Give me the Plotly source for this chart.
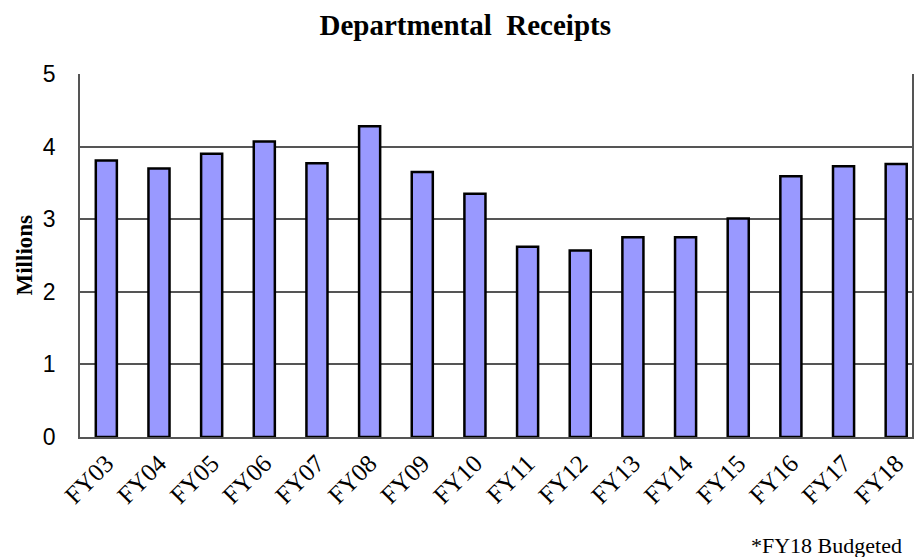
import plotly.graph_objects as go

years = ["FY03", "FY04", "FY05", "FY06", "FY07", "FY08", "FY09", "FY10",
         "FY11", "FY12", "FY13", "FY14", "FY15", "FY16", "FY17", "FY18"]
receipts_millions = [3.81, 3.70, 3.90, 4.07, 3.77, 4.28, 3.65, 3.35,
                     2.62, 2.57, 2.75, 2.75, 3.01, 3.59, 3.73, 3.76]
y_ticks = [0, 1, 2, 3, 4, 5]

serif = "Liberation Serif, Times New Roman, serif"
sans = "Liberation Sans, Arial, sans-serif"

fig = go.Figure()
fig.add_trace(go.Bar(
    x=years, y=receipts_millions, width=0.4,
    marker=dict(color="#9999FF", line=dict(color="black", width=2.5)),
    hoverinfo="x+y",
))

fig.update_layout(
    width=914, height=557,
    margin=dict(l=80, r=0, t=74, b=120),
    paper_bgcolor="white", plot_bgcolor="white",
    showlegend=False,
    title=dict(text="<b>Departmental&nbsp; Receipts</b>", x=0.509, xanchor="center",
               y=1 - 25 / 557, yanchor="middle", yref="container",
               font=dict(family=serif, size=29, color="black")),
    xaxis=dict(type="category", range=[-0.5, 15.3], tickangle=-45,
               tickfont=dict(family=serif, size=25, color="black"),
               showline=True, linecolor="#555", linewidth=1.5, ticks=""),
    yaxis=dict(range=[0, 5], tickvals=y_ticks, showgrid=True, gridcolor="#555",
               gridwidth=1.5, zeroline=False, showline=True, linecolor="#555",
               linewidth=1.5, mirror=True, ticklabelstandoff=18,
               tickfont=dict(family=sans, size=23, color="black")),
    annotations=[
        dict(text="<b>Millions</b>", textangle=-90, xref="paper", yref="paper",
             x=0, y=0.5, xanchor="center", yanchor="middle", xshift=-56,
             showarrow=False, font=dict(family=serif, size=23, color="black")),
        dict(text="*FY18 Budgeted", xref="paper", yref="paper", x=1, y=0,
             xanchor="right", yanchor="middle", xshift=-8, yshift=-108,
             showarrow=False, font=dict(family=serif, size=22, color="black")),
    ],
)

fig.write_html("out.html", config={"displayModeBar": False},
               post_script="document.body.style.margin='0';document.body.style.overflow='hidden';")
